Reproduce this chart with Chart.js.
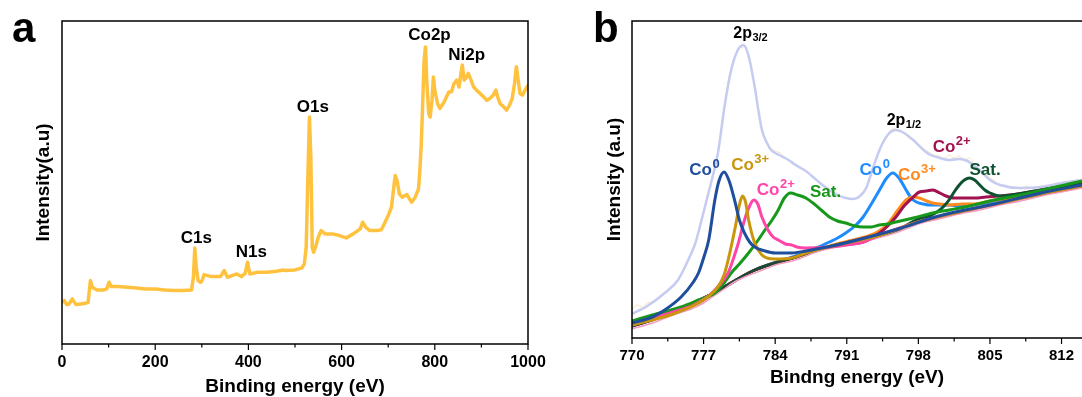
<!DOCTYPE html>
<html>
<head>
<meta charset="utf-8">
<script src="https://cdn.jsdelivr.net/npm/chart.js@4.4.1/dist/chart.umd.min.js"></script>
<style>
  html, body { margin: 0; padding: 0; background: #fff; overflow: hidden; }
  #wrap { position: relative; width: 1082px; height: 397px; }
  .panel { position: absolute; top: 0; height: 397px; }
  .letter { position: absolute; top: 6.5px; font: bold 42px "Liberation Sans", Arial, sans-serif; line-height: 1; color: #000; }
</style>
</head>
<body>
<div id="wrap">
  <div class="panel" style="left:0;width:560px"><canvas id="survey"></canvas></div>
  <div class="panel" style="left:541px;width:541px"><canvas id="cobalt"></canvas></div>
  <div class="letter" style="left:12px">a</div>
  <div class="letter" style="left:593px">b</div>
</div>
<script>
const FONT = '"Liberation Sans", Arial, Helvetica, sans-serif';

// ---------- panel a: survey spectrum ----------
const surveyTicks = [0, 200, 400, 600, 800, 1000];
// [binding energy (eV), intensity (a.u.)]
const surveySpectrum = [
  [0,125],[5,130],[10,118],[15,120],[22,135],[30,118],[40,120],[50,122],[56,125],[61,190],
  [65,170],[75,162],[90,162],[96,165],[101,185],[106,172],[120,172],[140,170],[160,168],[180,165],
  [200,165],[220,162],[240,160],[260,160],[278,162],[282,200],[285,288],[288,230],[292,190],[297,185],
  [300,188],[305,208],[320,202],[340,202],[348,220],[355,200],[365,205],[375,210],[385,202],[393,212],
  [398,245],[403,210],[420,215],[440,215],[460,218],[475,222],[480,220],[500,222],[515,228],[520,240],
  [524,290],[528,520],[531,680],[534,560],[537,290],[540,275],[545,295],[550,320],[556,340],[565,330],
  [580,330],[595,325],[610,318],[625,330],[640,345],[645,365],[652,350],[660,340],[675,340],[685,342],
  [690,355],[700,385],[707,410],[712,470],[715,505],[719,490],[724,450],[730,440],[740,448],[750,425],
  [758,440],[765,465],[768,520],[771,600],[774,720],[777,850],[780,890],[783,780],[787,690],[790,680],
  [794,730],[797,800],[800,760],[806,720],[811,706],[820,725],[830,755],[836,756],[841,780],[847,791],
  [852,770],[856,810],[859,836],[863,791],[868,800],[872,811],[878,790],[883,771],[890,760],[897,751],
  [905,740],[912,730],[918,736],[925,745],[931,761],[935,740],[940,721],[947,712],[954,701],[960,715],
  [966,735],[971,780],[975,831],[979,790],[983,750],[988,746],[994,761],[1000,776]
];
// peak names: [text, energy at left edge, intensity at baseline]
const surveyLabels = [
  ['C1s', 255, 303], ['N1s', 373, 261], ['O1s', 504, 695], ['Co2p', 743, 911], ['Ni2p', 829, 851]
];

// ---------- panel b: Co 2p fit ----------
const cobaltTicks = [770, 777, 784, 791, 798, 805, 812];
const rawCounts = [
  [770,28],[770.5,33],[771,31],[771.5,35],[772,36],[772.5,40],[773,44],[773.5,47],[774,52],[774.5,59],
  [775,66],[775.5,78],[776,90],[776.5,106],[777,126],[777.5,147],[778,167],[778.5,190],[779,228],[779.5,262],
  [780,280],[780.5,290],[781,291],[781.5,279],[782,252],[782.5,220],[783,200],[783.5,191],[784,187],[784.5,185],
  [785,180],[785.5,176],[786,174],[786.5,170],[787,167],[787.5,163],[788,158],[788.5,155],[789,150],[789.5,147],
  [790,144],[790.5,141],[791,140],[791.5,139],[792,140],[792.5,144],[793,153],[793.5,168],[794,183],[794.5,196],
  [795,203],[795.5,210],[796,208],[796.5,206],[797,200],[797.5,198],[798,193],[798.5,189],[799,186],[799.5,183],
  [800,182],[800.5,179],[801,183],[801.5,180],[802,182],[802.5,178],[803,180],[803.5,173],[804,169],[804.5,165],
  [805,160],[805.5,157],[806,152],[806.5,153],[807,150],[807.5,151],[808,149],[808.5,152],[809,150],[809.5,151],
  [810,152],[810.5,153],[811,152],[811.5,155],[812,154],[812.5,157],[813,156],[813.5,158],[814,159]
];
const envelope = [
  [770,24],[771.5,32],[773.2,45],[774.5,58],[775.5,78],[776.2,95],[776.8,118],[777.3,138],[777.8,158],[778.4,185],
  [779.1,235],[779.7,268],[780.3,287],[780.9,293],[781.4,282],[782,251],[782.4,225],[782.7,208],[783.2,195],[783.6,188],
  [784.4,183],[785.3,178],[786,173],[787,167],[787.7,161],[788.5,154],[789.3,148],[790.1,143],[790.9,140],[791.7,139],
  [792.3,142],[792.9,150],[793.5,168],[794.2,188],[795,203],[795.8,208],[796.6,205],[797.5,198],[798.1,192],[799,184],
  [800.1,180],[801,178],[802,179],[802.8,177],[803.5,172],[804.2,166],[805,158],[806,153],[807.9,150],[810,151],
  [812,155],[814,158]
];
const background = [
  [770,11],[772,17],[774,25],[776,32],[777,37],[778,44],[779,51],[780,58],[781,63],[782,67],[783,71],[784,75],
  [786,80],[788,88],[790,93],[792,97],[794,102],[796,108],[798,116],[800,121],[802,126],[804,130],[806,135],
  [808,139],[810,144],[812,148],[814,152]
];
const backgroundLow = [
  [770,9],[772,15],[774,23],[776,30],[777,35],[778,42],[779,49],[780,56],[781,61],[782,65],[783,69],[784,73],
  [786,78],[788,86],[790,91],[792,95],[794,100],[796,106],[798,114],[800,119],[802,124],[804,128],[806,133],
  [808,137],[810,142],[812,146],[814,150]
];
const co0Low = [
  [770,15],[772,21],[773.2,28],[774.8,41],[776,56],[776.5,65],[777,80],[777.5,98],[778.1,138],[778.5,157],
  [779,166],[779.5,157],[780.1,135],[780.5,118],[781,105],[781.5,96],[782,91],[783,87],[784,85],[785.6,85],
  [787,87],[788,89],[790,93],[792,98],[796,109],[800,122],[805,133],[810,145],[814,153]
];
const co3Low = [
  [770,13],[774,24],[776.5,35],[777.5,42],[778.4,51],[779,63],[779.4,78],[780.1,111],[780.5,133],[780.8,142],
  [781.1,136],[781.4,118],[782,95],[782.7,83],[783.2,80],[784,79],[785.6,80],[787,85],[788,88],[790,93],
  [794,102],[798,116],[802,126],[806,135],[810,144],[814,152]
];
const co2Low = [
  [770,13],[774,26],[776,33],[777.5,42],[778.1,48],[778.8,56],[779.4,65],[780,82],[780.4,95],[781,118],
  [781.5,132],[781.9,138],[782.3,134],[782.7,121],[783.3,108],[783.8,101],[784.3,98],[785,94],[785.6,93],[786.1,91],
  [787,90],[789.3,91],[791,93],[792.6,96],[794,102],[798,116],[802,126],[806,135],[810,144],[814,152]
];
const satLow = [
  [770,17],[772,23],[774.8,31],[776.5,38],[778.1,45],[779,55],[779.7,65],[780.5,74],[781.4,85],[782.2,96],
  [783,108],[783.7,118],[784.3,128],[784.9,140],[785.5,145],[786.2,143],[787,140],[787.7,135],[788.5,128],[789.3,121],
  [790.1,117],[790.9,115],[791.8,112],[792.6,111],[793.4,111],[794.2,113],[795,114],[795.8,116],[797.5,120],[799.4,125],
  [801,128],[803,132],[805,137],[808,143],[811,150],[814,157]
];
const co0High = [
  [770,12],[774,26],[778,45],[782,68],[786,82],[788,90],[789.3,96],[790.1,100],[790.9,105],[791.8,112],
  [792.6,121],[793.4,134],[794.2,148],[794.9,160],[795.5,165],[796.1,160],[796.8,148],[797.3,140],[797.8,136],[798.5,134],
  [799.1,133],[800,133],[801,133],[802,132],[803,133],[804,134],[806,137],[810,146],[814,155]
];
const co3High = [
  [770,12],[774,26],[778,45],[782,68],[786,81],[790,94],[792,99],[794,106],[795,114],[796,128],
  [796.8,138],[797.5,141],[798.1,140],[798.8,137],[799.4,135],[800.1,134],[801,133],[802.3,134],[803.5,134],[805,137],
  [808,142],[811,149],[814,155]
];
const co2High = [
  [770,12],[774,26],[778,45],[782,68],[786,81],[790,93],[792.6,96],[794.2,105],[795,112],[795.8,121],
  [796.6,132],[797.5,141],[798.1,146],[798.8,147],[799.4,148],[800.1,145],[800.7,142],[801.5,140],[802.3,140],[803.5,140],
  [804.6,141],[805.9,142],[807,143],[810,148],[814,155]
];
const satHigh = [
  [770,12],[774,26],[778,45],[782,68],[786,81],[790,93],[794,102],[796,108],[798,119],[798.8,121],
  [799.5,124],[800.1,128],[800.6,133],[801,138],[801.5,146],[802,153],[802.5,158],[803,160],[803.5,158],[804,153],
  [804.5,148],[805,145],[805.9,142],[807,143],[810,148],[814,155]
];
// component names: [main, superscript, colour, energy at left edge, intensity at baseline]
const cobaltLabels = [
  ['Co', '0', '#1f4e9c', 775.6, 163],
  ['Co', '3+', '#c9960c', 779.7, 168],
  ['Co', '2+', '#ff45a8', 782.2, 143],
  ['Sat.', '', '#18981a', 787.4, 141],
  ['Co', '0', '#1e8cff', 792.25, 163],
  ['Co', '3+', '#ff8a1e', 796.0, 158],
  ['Co', '2+', '#a1124f', 799.4, 186],
  ['Sat.', '', '#0e5232', 803.0, 163]
];
const orbitLabels = [['2p', '3/2', 779.9, 300], ['2p', '1/2', 794.9, 213]];

const toXY = pts => pts.map(([x, y]) => ({ x, y }));

// frame, minor ticks and all on-plot text
const decorPlugin = {
  id: 'decor',
  afterDraw(chart, args, opts) {
    const { ctx, chartArea: a } = chart;
    const xs = chart.scales.x, ys = chart.scales.y;
    ctx.save();
    ctx.strokeStyle = '#000';
    ctx.lineWidth = 1.5;
    ctx.beginPath();
    if (opts.openRight) {
      ctx.moveTo(a.right + 5, a.top); ctx.lineTo(a.left, a.top);
      ctx.lineTo(a.left, a.bottom); ctx.lineTo(a.right + 5, a.bottom);
    } else {
      ctx.rect(a.left, a.top, a.right - a.left, a.bottom - a.top);
    }
    ctx.stroke();

    // ticks pointing out of the bottom axis
    const major = opts.ticks;
    const step = major[1] - major[0];
    ctx.lineWidth = 1.2;
    ctx.beginPath();
    major.forEach(v => {
      const px = xs.getPixelForValue(v);
      ctx.moveTo(px, a.bottom); ctx.lineTo(px, a.bottom + 6);
      const mx = xs.getPixelForValue(v + step / 2);
      if (mx < a.right - 1) { ctx.moveTo(mx, a.bottom); ctx.lineTo(mx, a.bottom + 3.5); }
    });
    ctx.stroke();

    ctx.textBaseline = 'alphabetic';
    ctx.textAlign = 'left';
    (opts.peaks || []).forEach(([t, ev, v]) => {
      ctx.font = 'bold ' + opts.peakSize + 'px ' + FONT;
      ctx.fillStyle = '#000';
      ctx.fillText(t, xs.getPixelForValue(ev), ys.getPixelForValue(v));
    });
    (opts.states || []).forEach(([t, sup, col, ev, v]) => {
      const x = xs.getPixelForValue(ev), y = ys.getPixelForValue(v);
      ctx.fillStyle = col;
      ctx.font = 'bold 17px ' + FONT;
      ctx.fillText(t, x, y);
      const w = ctx.measureText(t).width;
      if (sup) {
        ctx.font = 'bold 13px ' + FONT;
        ctx.fillText(sup, x + w + 0.5, y - 7);
      }
    });
    (opts.orbits || []).forEach(([t, sub, ev, v]) => {
      const x = xs.getPixelForValue(ev), y = ys.getPixelForValue(v);
      ctx.fillStyle = '#000';
      ctx.font = 'bold 16px ' + FONT;
      ctx.fillText(t, x, y);
      const w = ctx.measureText(t).width;
      ctx.font = 'bold 11px ' + FONT;
      ctx.fillText(sub, x + w + 0.5, y + 3);
    });
    ctx.restore();
  }
};

function xAxis(min, max, ticks, title, height, tickSize, tickPad, titlePad) {
  return {
    type: 'linear', min, max,
    afterBuildTicks: s => { s.ticks = ticks.map(v => ({ value: v })); },
    afterFit: s => { s.height = height; s.paddingLeft = 0; s.paddingRight = 0; },
    grid: { display: false, drawTicks: false },
    border: { display: false },
    ticks: { color: '#000', padding: tickPad, maxRotation: 0, autoSkip: false,
             callback: v => String(v),
             font: { family: FONT, size: tickSize, weight: 'bold' } },
    title: { display: true, text: title, color: '#000', padding: { top: 0, bottom: titlePad },
             font: { family: FONT, size: 19, weight: 'bold', lineHeight: 1 } }
  };
}

function yAxis(max, title, width, titlePad) {
  return {
    min: 0, max,
    afterFit: s => { s.width = width; s.paddingTop = 0; s.paddingBottom = 0; },
    grid: { display: false, drawTicks: false },
    border: { display: false },
    ticks: { display: false },
    title: { display: true, text: title, color: '#000', padding: { top: titlePad, bottom: 0 },
             font: { family: FONT, size: 19, weight: 'bold', lineHeight: 1 } }
  };
}

const common = {
  responsive: true,
  maintainAspectRatio: false,
  animation: false,
  devicePixelRatio: 1,
  events: [],
  elements: { point: { radius: 0 } }
};

new Chart(document.getElementById('survey'), {
  type: 'line',
  data: {
    datasets: [{
      data: toXY(surveySpectrum),
      borderColor: '#ffc23f',
      borderWidth: 3.5,
      tension: 0,
      borderJoinStyle: 'round'
    }]
  },
  options: {
    ...common,
    layout: { padding: { top: 21, right: 32, bottom: 0, left: 0 } },
    scales: {
      x: xAxis(0, 1000, surveyTicks, 'Binding energy (eV)', 53, 16, 9, 0.5),
      y: yAxis(968, 'Intensity(a.u)', 62, 34.5)
    },
    plugins: {
      legend: { display: false }, tooltip: { enabled: false },
      decor: { ticks: surveyTicks, peaks: surveyLabels, peakSize: 17 }
    }
  },
  plugins: [decorPlugin]
});

// curves listed from bottom layer to top layer
const cobaltCurves = [
  [rawCounts, '#f6e3b8', 1],
  [envelope, '#c6cbf2', 2.5],
  [co0High, '#1e8cff', 3],
  [co3High, '#ff8a1e', 3],
  [co2High, '#a1124f', 3],
  [satHigh, '#0e5232', 3],
  [backgroundLow, '#f39cc3', 1.5],
  [background, '#3b3b3b', 1],
  [satLow, '#18981a', 3],
  [co2Low, '#ff45a8', 3],
  [co3Low, '#c9960c', 3],
  [co0Low, '#1f4e9c', 3]
];

new Chart(document.getElementById('cobalt'), {
  type: 'line',
  data: {
    datasets: cobaltCurves.map(([pts, color, width], i) => ({
      data: toXY(pts),
      borderColor: color,
      borderWidth: width,
      cubicInterpolationMode: 'monotone',
      order: cobaltCurves.length - i
    }))
  },
  options: {
    ...common,
    layout: { padding: { top: 21, right: 0, bottom: 0, left: 0 } },
    scales: {
      x: xAxis(770, 814, cobaltTicks, 'Bindng energy (eV)', 59, 15, 9, 9.5),
      y: yAxis(317, 'Intensity (a.u)', 91, 64.5)
    },
    plugins: {
      legend: { display: false }, tooltip: { enabled: false },
      decor: { ticks: cobaltTicks, states: cobaltLabels, orbits: orbitLabels, openRight: true }
    }
  },
  plugins: [decorPlugin]
});
</script>
</body>
</html>
